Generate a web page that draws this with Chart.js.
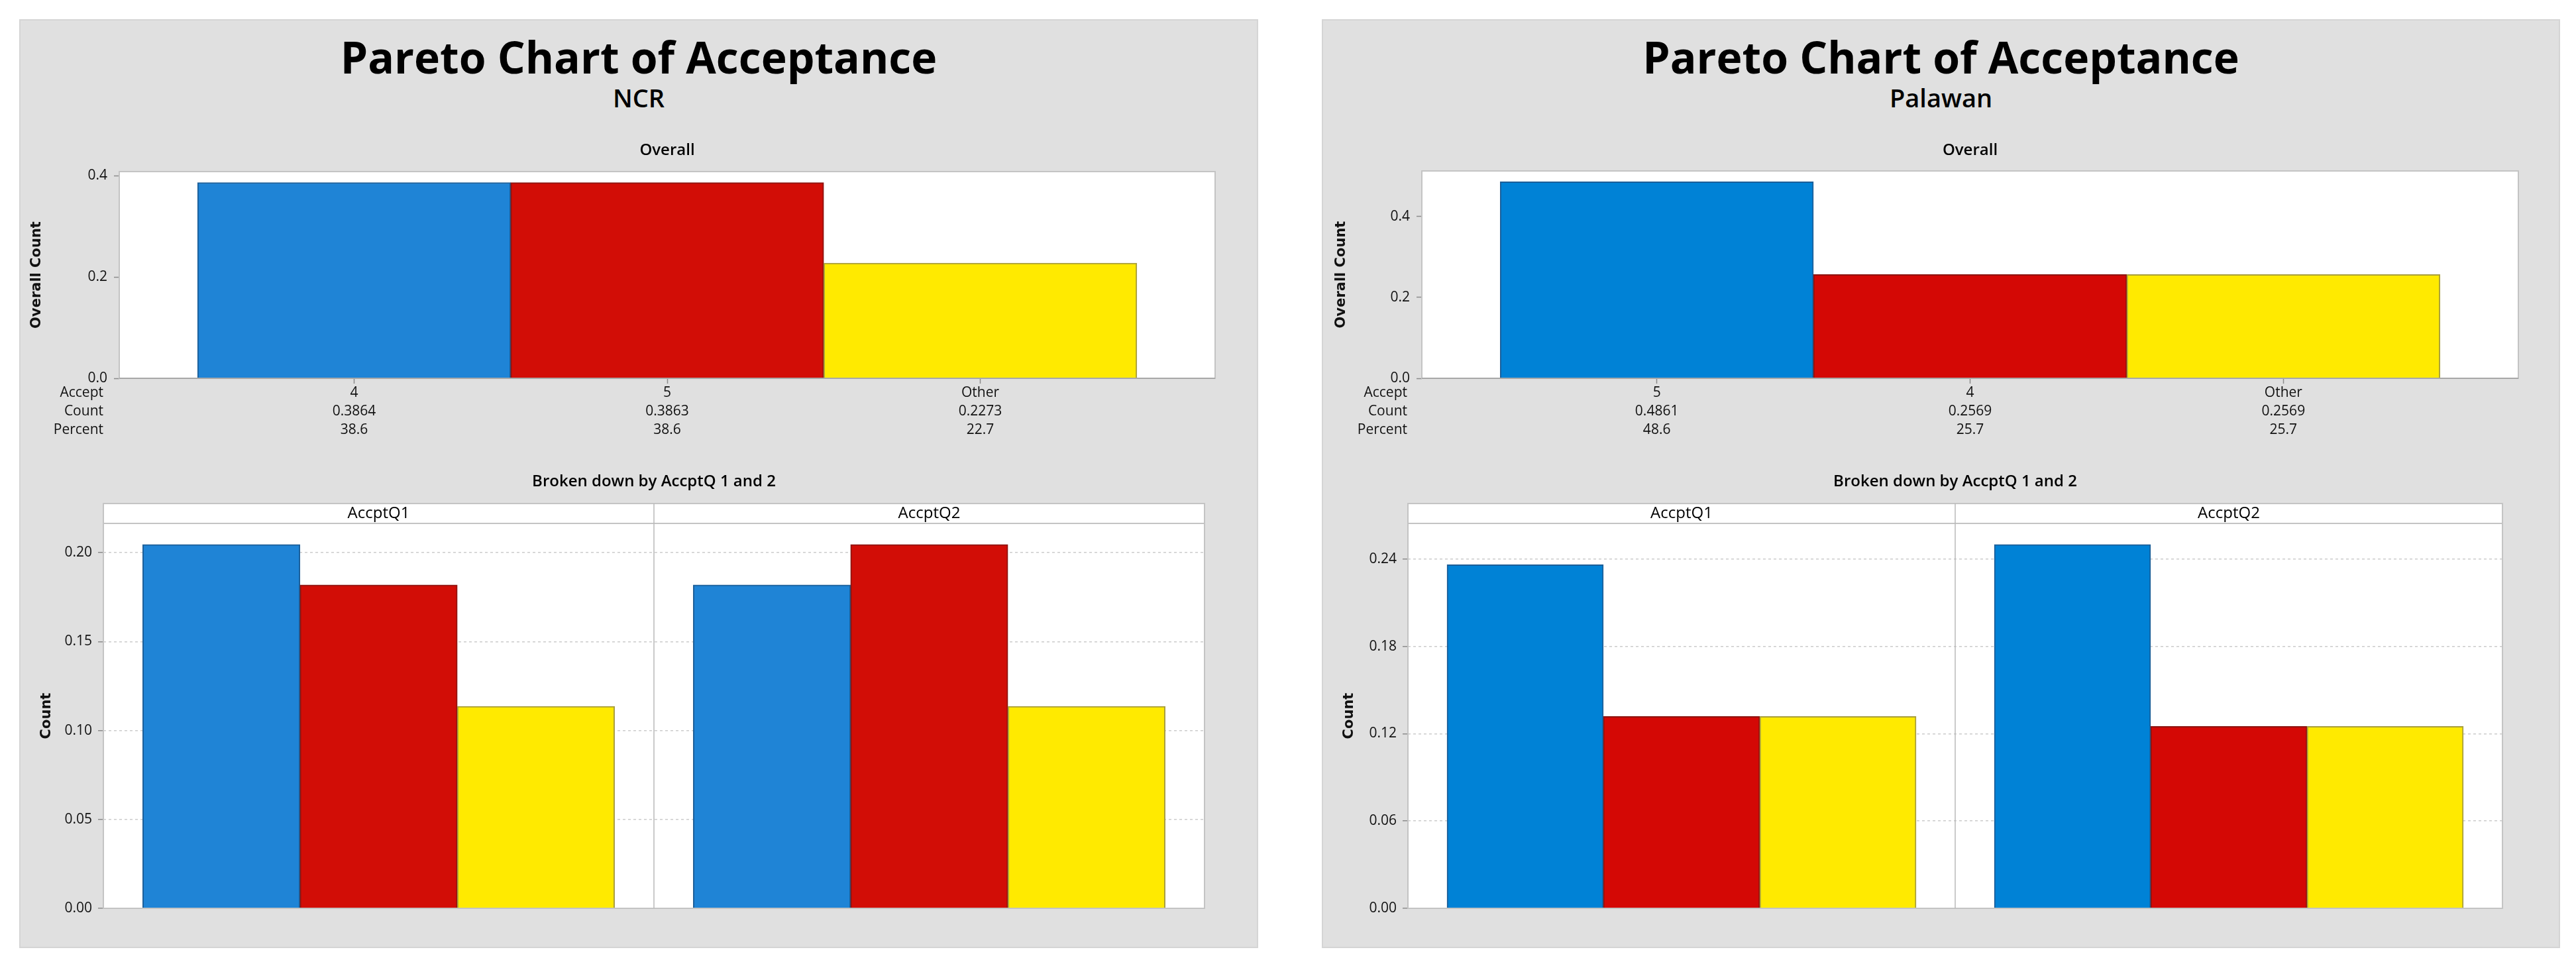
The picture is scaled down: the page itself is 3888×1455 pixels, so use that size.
<!DOCTYPE html>
<html>
<head>
<meta charset="utf-8">
<title>Pareto Chart of Acceptance</title>
<script src="https://cdn.jsdelivr.net/npm/chart.js@4.4.1/dist/chart.umd.min.js"></script>
<style>
  html, body { margin: 0; padding: 0; background: #fff; }
  body { width: 3888px; height: 1455px; position: relative; overflow: hidden; font-family: 'Open Sans', sans-serif; }
  .panel { position: absolute; top: 29px; height: 1402px; background: #e0e0e0; box-shadow: inset 0 0 0 2px #d5d5d5; }
  .title { position: absolute; left: 0; right: 0; text-align: center; color: #000; line-height: 1; }
  .title.main { font-size: 66px; font-weight: 700; top: 23px; }
  .title.sub { font-size: 38px; font-weight: 600; top: 99px; }
  canvas { position: absolute; left: 0; }
</style>
</head>
<body>
<div class="panel" style="left:29px;width:1870px">
  <div class="title main">Pareto Chart of Acceptance</div>
  <div class="title sub">NCR</div>
  <canvas id="ncrTop" width="1870" height="500" style="top:161px"></canvas>
  <canvas id="ncrBottom" width="1870" height="741" style="top:661px"></canvas>
</div>
<div class="panel" style="left:1995px;width:1869px">
  <div class="title main">Pareto Chart of Acceptance</div>
  <div class="title sub">Palawan</div>
  <canvas id="palTop" width="1869" height="500" style="top:161px"></canvas>
  <canvas id="palBottom" width="1869" height="741" style="top:661px"></canvas>
</div>
<script>
// table row names and facet names
const tableRows = ['Accept', 'Count', 'Percent'];
const facetLabels = ['AccptQ1', 'AccptQ2'];

// NCR
const ncrCategories = ['4', '5', 'Other'];
const ncrCounts = [0.3864, 0.3863, 0.2273];
const ncrPercents = [38.6, 38.6, 22.7];
const ncrQ1 = [0.2045, 0.1818, 0.1136];
const ncrQ2 = [0.1818, 0.2045, 0.1136];
const ncrTopTicks = [0, 0.2, 0.4];
const ncrBottomTicks = [0, 0.05, 0.1, 0.15, 0.2];

// Palawan
const palCategories = ['5', '4', 'Other'];
const palCounts = [0.4861, 0.2569, 0.2569];
const palPercents = [48.6, 25.7, 25.7];
const palQ1 = [0.2361, 0.1319, 0.1319];
const palQ2 = [0.25, 0.125, 0.125];
const palTopTicks = [0, 0.2, 0.4];
const palBottomTicks = [0, 0.06, 0.12, 0.18, 0.24];

const ncrColors = ['#1f84d6', '#d20d06', '#ffea00'];
const palColors = ['#0082d6', '#d40805', '#ffea00'];
const edgeColors = ['#1b5e98', '#8e1410', '#a89e3c'];

const tickFont = { family: 'Open Sans', size: 21 };
const axisTitleFont = { family: 'DejaVu Sans', size: 21, weight: 'bold' };
const frameColor = '#c4c4c4';

// white data region + strip, then frame lines on top of the bars
const framePlugin = {
  id: 'frame',
  beforeDraw(chart) {
    const { ctx, chartArea: a } = chart;
    const strip = chart.scales.strip;
    ctx.save();
    ctx.fillStyle = '#fff';
    ctx.fillRect(a.left, strip ? strip.top : a.top, a.width, a.bottom - (strip ? strip.top : a.top));
    ctx.restore();
  },
  afterDatasetsDraw(chart, args, opts) {
    const { ctx, chartArea: a } = chart;
    const strip = chart.scales.strip;
    const top = strip ? strip.top : a.top;
    ctx.save();
    ctx.strokeStyle = frameColor;
    ctx.lineWidth = 2;
    ctx.strokeRect(a.left, top, a.width, a.bottom - top);
    if (strip) {
      ctx.beginPath();
      ctx.moveTo(a.left, a.top);
      ctx.lineTo(a.right, a.top);
      ctx.stroke();
      ctx.strokeStyle = '#b8b8b8';
      ctx.lineWidth = 1.5;
      (opts.dividers || []).forEach((v) => {
        const px = chart.scales.x.getPixelForValue(v);
        ctx.beginPath();
        ctx.moveTo(px, top);
        ctx.lineTo(px, a.bottom);
        ctx.stroke();
      });
    } else {
      ctx.strokeStyle = '#a8a8a8';
      ctx.beginPath();
      ctx.moveTo(a.left, a.bottom);
      ctx.lineTo(a.right, a.bottom);
      ctx.stroke();
    }
    ctx.restore();
  },
};

// "Overall" / "Broken down by ..." centred on the data region
const panelTitlePlugin = {
  id: 'panelTitle',
  afterDraw(chart, args, opts) {
    const { ctx, chartArea: a } = chart;
    ctx.save();
    ctx.font = '600 24px "Open Sans"';
    ctx.fillStyle = '#000';
    ctx.textAlign = 'center';
    ctx.textBaseline = 'middle';
    ctx.fillText(opts.text, (a.left + a.right) / 2, opts.y);
    ctx.restore();
  },
};

// Accept / Count / Percent row names left of the x tick table
const rowLabelPlugin = {
  id: 'rowLabels',
  afterDraw(chart, args, opts) {
    if (!opts.rows) return;
    const { ctx, chartArea: a } = chart;
    ctx.save();
    ctx.font = '21px "Open Sans"';
    ctx.fillStyle = '#111';
    ctx.textAlign = 'right';
    ctx.textBaseline = 'middle';
    opts.rows.forEach((r, i) => {
      ctx.fillText(r, a.left - opts.gap, a.bottom + opts.offset + opts.lineHeight * (i + 0.5));
    });
    ctx.restore();
  },
};

function topChart(id, cats, counts, pcts, ticks, yMax, colors, lay) {
  new Chart(document.getElementById(id), {
    type: 'bar',
    data: {
      datasets: [{
        data: counts.map((v, i) => ({ x: i, y: v })),
        backgroundColor: colors,
        borderColor: edgeColors,
        borderWidth: 2,
        barPercentage: 1,
        categoryPercentage: 1,
      }],
    },
    options: {
      responsive: false,
      animation: false,
      devicePixelRatio: 1,
      layout: { padding: { left: lay.padLeft, right: lay.padRight, top: lay.top, bottom: 500 - lay.bottom - 92 } },
      plugins: {
        legend: { display: false },
        tooltip: { enabled: false },
        panelTitle: { text: 'Overall', y: 37 },
        rowLabels: { rows: tableRows, gap: lay.rowGap, lineHeight: 28, offset: 8 },
      },
      scales: {
        x: {
          type: 'linear',
          offset: false,
          min: -0.75,
          max: cats.length - 0.25,
          afterBuildTicks: (s) => { s.ticks = cats.map((c, i) => ({ value: i })); },
          afterFit: (s) => { s.height = 92; },
          grid: { offset: false, drawOnChartArea: false, drawTicks: true, tickLength: 8, tickColor: '#8c8c8c', tickWidth: 1.5 },
          border: { display: false },
          ticks: {
            autoSkip: false,
            maxRotation: 0,
            padding: 0,
            color: '#111',
            font: { ...tickFont, lineHeight: 1.33 },
            callback: (v, i) => [cats[i], counts[i].toFixed(4), pcts[i].toFixed(1)],
          },
        },
        y: {
          min: 0,
          max: yMax,
          afterBuildTicks: (s) => { s.ticks = ticks.map((v) => ({ value: v })); },
          afterFit: (s) => { s.width = lay.yWidth; },
          grid: { drawOnChartArea: false, tickLength: 8, tickColor: '#8c8c8c', tickWidth: 1.5 },
          border: { display: false },
          ticks: { padding: 10, color: '#111', font: tickFont, callback: (v, i) => ticks[i].toFixed(1) },
          title: { display: true, text: 'Overall Count', color: '#111', font: axisTitleFont, padding: { top: 4, bottom: 4 } },
        },
      },
    },
    plugins: [framePlugin, panelTitlePlugin, rowLabelPlugin],
  });
}

function bottomChart(id, n, groups, ticks, yMax, colors, lay) {
  const step = n + 0.5;
  const xMax = groups.length * step - 0.75;
  const points = [];
  groups.forEach((vals, f) => vals.forEach((v, i) => points.push({ x: f * step + i, y: v })));
  const dividers = groups.slice(1).map((g, f) => (f + 1) * step - 0.75);
  new Chart(document.getElementById(id), {
    type: 'bar',
    data: {
      datasets: [{
        data: points,
        backgroundColor: groups.flatMap(() => colors),
        borderColor: groups.flatMap(() => edgeColors),
        borderWidth: 2,
        barPercentage: 1,
        categoryPercentage: 1,
      }],
    },
    options: {
      responsive: false,
      animation: false,
      devicePixelRatio: 1,
      layout: { padding: { left: lay.padLeft, right: lay.padRight, top: 70, bottom: 60 } },
      plugins: {
        legend: { display: false },
        tooltip: { enabled: false },
        panelTitle: { text: 'Broken down by AccptQ 1 and 2', y: 37 },
        frame: { dividers },
      },
      scales: {
        x: {
          type: 'linear',
          offset: false,
          min: -0.75,
          max: xMax,
          afterBuildTicks: (s) => { s.ticks = dividers.map((v) => ({ value: v })); },
          afterFit: (s) => { s.height = 0; },
          ticks: { display: false },
          grid: { display: false, offset: false },
          border: { display: false },
        },
        strip: {
          type: 'linear',
          axis: 'x',
          position: 'top',
          offset: false,
          min: -0.75,
          max: xMax,
          afterBuildTicks: (s) => { s.ticks = facetLabels.map((l, f) => ({ value: f * step + (n - 1) / 2 })); },
          afterFit: (s) => { s.height = 30; },
          grid: { display: false, drawTicks: false, offset: false },
          border: { display: false },
          ticks: { autoSkip: false, maxRotation: 0, padding: 0, color: '#000', font: { family: 'Open Sans', size: 24, lineHeight: 1.2 }, callback: (v, i) => facetLabels[i] },
        },
        y: {
          min: 0,
          max: yMax,
          afterBuildTicks: (s) => { s.ticks = ticks.map((v) => ({ value: v })); },
          afterFit: (s) => { s.width = lay.yWidth; },
          grid: { color: '#cccccc', lineWidth: 1.5, tickLength: 8, tickColor: '#8c8c8c', tickWidth: 1.5, tickBorderDash: [] },
          border: { display: false, dash: [4, 4] },
          ticks: { padding: 9, color: '#111', font: tickFont, callback: (v, i) => ticks[i].toFixed(2) },
          title: { display: true, text: 'Count', color: '#111', font: axisTitleFont, padding: { top: 4, bottom: 4 } },
        },
      },
    },
    plugins: [framePlugin, panelTitlePlugin],
  });
}

topChart('ncrTop', ncrCategories, ncrCounts, ncrPercents, ncrTopTicks, 0.408, ncrColors,
  { padLeft: 10, yWidth: 141, padRight: 65, top: 69, bottom: 381, rowGap: 24 });
bottomChart('ncrBottom', ncrCategories.length, [ncrQ1, ncrQ2], ncrBottomTicks, 0.2164, ncrColors,
  { padLeft: 25, yWidth: 102, padRight: 81 });
topChart('palTop', palCategories, palCounts, palPercents, palTopTicks, 0.513, palColors,
  { padLeft: 13, yWidth: 138, padRight: 63, top: 68, bottom: 381, rowGap: 22 });
bottomChart('palBottom', palCategories.length, [palQ1, palQ2], palBottomTicks, 0.2645, palColors,
  { padLeft: 25, yWidth: 105, padRight: 87 });
</script>
</body>
</html>
